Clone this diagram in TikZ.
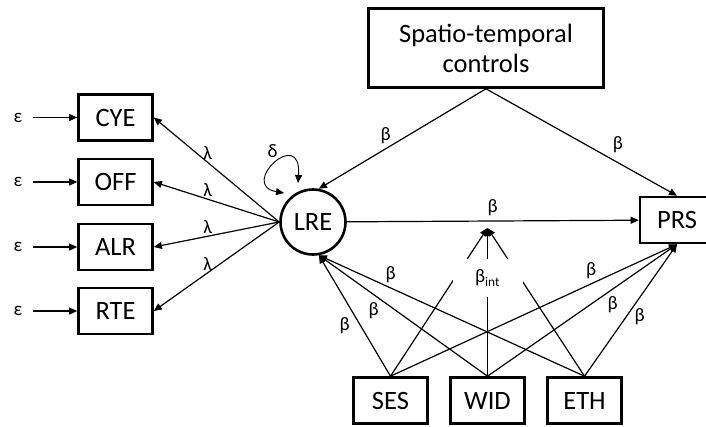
\documentclass[tikz,border=0pt]{standalone}
\usepackage{fontspec}
\setmainfont{Carlito}
\usepackage{tikz}
\usetikzlibrary{arrows.meta,positioning}

\begin{document}
\begin{tikzpicture}[x=1pt,y=-1pt,>={Triangle[length=8pt,width=7pt]},line width=1.2pt]
	\useasboundingbox (0,0) rectangle (706,426);
	\tikzset{boxstyle/.style={draw,line width=2.6pt,minimum width=74pt,minimum height=46pt,inner sep=2pt,font=\fontsize{26.5}{30}\selectfont}}
	\tikzset{lblstyle/.style={font=\fontsize{19}{22}\selectfont,inner sep=2pt}}
	% indicators of the latent variable
	\node[boxstyle] (CYE) at (115.5,117.5) {CYE};
	\node[boxstyle] (OFF) at (115.5,182)   {OFF};
	\node[boxstyle] (ALR) at (115.5,247)   {ALR};
	\node[boxstyle] (RTE) at (115.5,311)   {RTE};
	\node[lblstyle] (e1) at (18,117.5) {ε};
	\node[lblstyle] (e2) at (18,182)   {ε};
	\node[lblstyle] (e3) at (18,247)   {ε};
	\node[lblstyle] (e4) at (18,311)   {ε};
	% latent, outcome and controls
	\node[boxstyle,circle,minimum size=65pt,inner sep=0pt] (LRE) at (313,222) {LRE};
	\node[boxstyle] (PRS) at (677,220) {PRS};
	\node[boxstyle,minimum width=235pt,minimum height=79pt,align=center] (STC) at (486,48) {Spatio-temporal\\controls};
	\node[boxstyle] (SES) at (390.5,400.5) {SES};
	\node[boxstyle] (WID) at (487.5,400.5) {WID};
	\node[boxstyle] (ETH) at (584.5,400.5) {ETH};
	\coordinate (MOD) at ([yshift=-6pt]WID |- LRE);
	\coordinate (DL) at ([shift={(-29pt,29pt)}]LRE.center);
	\coordinate (DR) at ([shift={(-15pt,39pt)}]LRE.center);
	\tikzset{mystyle/.style={->}}
	\path
	(e1)    edge [mystyle,shorten <=8pt] (CYE)
	(e2)    edge [mystyle,shorten <=8pt] (OFF)
	(e3)    edge [mystyle,shorten <=8pt] (ALR)
	(e4)    edge [mystyle,shorten <=8pt] (RTE)
	(LRE.west) edge [mystyle] node[lblstyle,pos=0.57,above] {λ} (CYE.east)
	(LRE.west) edge [mystyle] node[lblstyle,pos=0.57,above] {λ} (OFF.east)
	(LRE.west) edge [mystyle] node[lblstyle,pos=0.57,above] {λ} (ALR.east)
	(LRE.west) edge [mystyle] node[lblstyle,pos=0.57,above] {λ} (RTE.east)
	(STC.south) edge [mystyle] node[lblstyle,pos=0.6,above=2pt] {β} (LRE.80)
	(STC.south) edge [mystyle] node[lblstyle,pos=0.64,above right=3pt] {β} (PRS.north)
	(LRE)   edge [mystyle] node[lblstyle,pos=0.5,above=3pt] {β} (PRS)
	(SES.north) edge [mystyle] node[lblstyle,pos=0.42,left=8pt] {β} (LRE.-80)
	(WID.north) edge [mystyle] node[lblstyle,pos=0.63,below left] {β} (LRE.-80)
	(ETH.north) edge [mystyle] node[lblstyle,pos=0.73,above=3pt] {β} (LRE.-80)
	(SES.north) edge [mystyle] node[lblstyle,pos=0.7,above=3pt] {β} (PRS.south)
	(WID.north) edge [mystyle] node[lblstyle,pos=0.62,below right] {β} (PRS.south)
	(ETH.north) edge [mystyle] node[lblstyle,pos=0.45,right=6pt] {β} (PRS.south)
	(SES.north) edge [mystyle] (MOD)
	(WID.north) edge [mystyle] (MOD)
	(ETH.north) edge [mystyle] (MOD);
	% variance loop
	\draw[<->,line width=0.9pt] (DL) .. controls +(-46,-8) and +(4,-58) .. (DR) node[lblstyle,pos=0.45,above=6pt] {δ};
	\node[lblstyle,fill=white,minimum width=70pt,minimum height=38pt] (INT) at (487.5,278) {β\textsubscript{int}};
\end{tikzpicture}
\end{document}
